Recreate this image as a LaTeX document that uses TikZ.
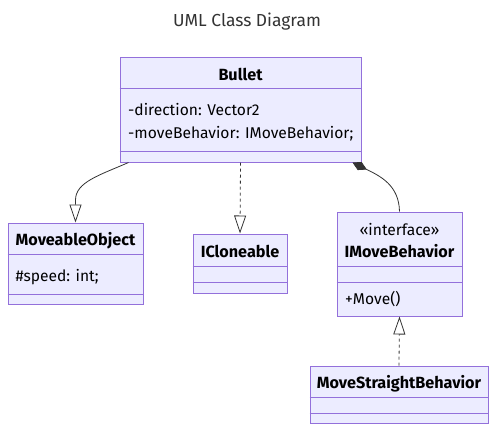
\documentclass[tikz,border=0pt]{standalone}
\usepackage{fontspec}
\setmainfont{Fira Sans}
\usetikzlibrary{arrows.meta}
\definecolor{boxfill}{HTML}{ECECFF}
\definecolor{boxline}{HTML}{9370DB}
\definecolor{ink}{HTML}{333333}
\begin{document}
\begin{tikzpicture}[x=1pt,y=-1pt,
	cls/.style={draw=boxline,fill=boxfill,line width=1pt,inner sep=0pt},
	sep/.style={draw=boxline,line width=1pt},
	txt/.style={inner sep=0pt,font=\fontsize{15.6}{18}\selectfont,text=black},
	bold/.style={txt,font=\fontsize{16.2}{18}\selectfont\bfseries},
	rel/.style={draw=ink,line width=0.8pt},
	dashrel/.style={rel,dash pattern=on 3pt off 3pt},
	hollow/.style={-{Triangle[open,length=18pt,width=12pt,line width=0.8pt]}}]
	\useasboundingbox (0,0) rectangle (496,432);
	% title
	\node[txt,anchor=base,text=ink,font=\fontsize{17.4}{20}\selectfont] (title) at (247,26) {UML Class Diagram};
	% class boxes
	\node[cls,minimum width=241,minimum height=105] (bullet) at (240.5,109.5) {};
	\node[cls,minimum width=135,minimum height=81] (moveable) at (75.5,263.5) {};
	\node[cls,minimum width=94,minimum height=59] (cloneable) at (240,263.5) {};
	\node[cls,minimum width=125,minimum height=104] (imove) at (399.5,264) {};
	\node[cls,minimum width=178,minimum height=57] (straight) at (399,394.5) {};
	\foreach \n/\y in {bullet/88,bullet/151,moveable/254,moveable/294,cloneable/266,cloneable/282,imove/266,imove/282,straight/397,straight/413}
		\draw[sep] (\n.west |- 0,\y) -- (\n.east |- 0,\y);
	% texts
	\node[bold,anchor=base] (bullet-name) at (240.5,80.7) {Bullet};
	\node[txt,anchor=base west] (bullet-f1) at (128,115.7) {-direction: Vector2};
	\node[txt,anchor=base west] (bullet-f2) at (128,138.3) {-moveBehavior: IMoveBehavior;};
	\node[bold,anchor=base] (moveable-name) at (75.5,245.7) {MoveableObject};
	\node[txt,anchor=base west] (moveable-f1) at (15.5,281) {\#speed: int;};
	\node[bold,anchor=base] (cloneable-name) at (240,257.3) {ICloneable};
	\node[txt,anchor=base] (imove-stereo) at (399.5,235) {«interface»};
	\node[bold,anchor=base] (imove-name) at (399.5,257.3) {IMoveBehavior};
	\node[txt,anchor=base west] (imove-m1) at (345,304.3) {+Move()};
	\node[bold,anchor=base] (straight-name) at (399,388.3) {MoveStraightBehavior};
	% relations
	\draw[rel,hollow] ([xshift=9pt]bullet.south west) .. controls (100,175) and (75.5,182) .. (75.5,200) -- (moveable.north);
	\draw[dashrel,hollow] (bullet.south) -- (cloneable.north);
	\draw[rel,{Diamond[length=16pt,width=9pt]}-] ([xshift=-9pt]bullet.south east) .. controls (380,176) and (399,185) .. (imove.north);
	\draw[dashrel,hollow] (straight.north) -- (imove.south);
\end{tikzpicture}
\end{document}
